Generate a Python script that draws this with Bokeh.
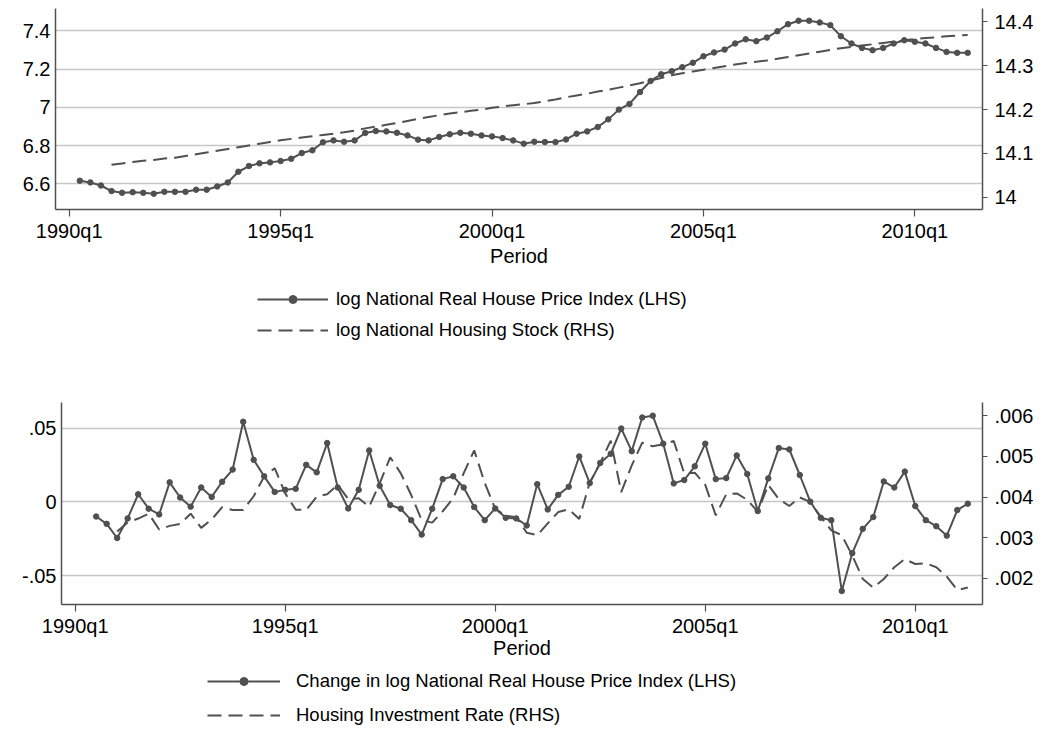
from bokeh.plotting import figure
from bokeh.models import Range1d, LinearAxis, FixedTicker, Legend, LegendItem
from bokeh.layouts import column
from bokeh.embed import file_html
from bokeh.resources import INLINE

# ---------------- data (quarters coded as Stata %tq: 0 = 1960q1) ----------------
x_ticks = [120, 140, 160, 180, 200]
x_tick_labels = ["1990q1", "1995q1", "2000q1", "2005q1", "2010q1"]

top_left_ticks = [6.6, 6.8, 7.0, 7.2, 7.4]
top_left_labels = ["6.6", "6.8", "7", "7.2", "7.4"]
top_right_ticks = [14.0, 14.1, 14.2, 14.3, 14.4]
top_right_labels = ["14", "14.1", "14.2", "14.3", "14.4"]
bot_left_ticks = [-0.05, 0.0, 0.05]
bot_left_labels = ["-.05", "0", ".05"]
bot_right_ticks = [0.002, 0.003, 0.004, 0.005, 0.006]
bot_right_labels = [".002", ".003", ".004", ".005", ".006"]

# log National Real House Price Index, 1990q2 .. 2011q2
hpi_first_q = 121
log_hpi = [
    6.616, 6.607, 6.591, 6.562, 6.553, 6.556, 6.553, 6.548, 6.558, 6.558,
    6.558, 6.569, 6.569, 6.586, 6.607, 6.663, 6.693, 6.707, 6.712, 6.719,
    6.731, 6.761, 6.775, 6.817, 6.827, 6.820, 6.827, 6.866, 6.876, 6.874,
    6.867, 6.853, 6.831, 6.827, 6.845, 6.859, 6.867, 6.862, 6.853, 6.848,
    6.839, 6.827, 6.810, 6.820, 6.818, 6.818, 6.832, 6.862, 6.874, 6.897,
    6.937, 6.988, 7.018, 7.080, 7.138, 7.173, 7.189, 7.210, 7.233, 7.267,
    7.287, 7.302, 7.334, 7.356, 7.346, 7.365, 7.398, 7.435, 7.453, 7.453,
    7.444, 7.430, 7.372, 7.334, 7.311, 7.299, 7.311, 7.334, 7.351, 7.343,
    7.334, 7.311, 7.290, 7.285, 7.285,
]

# log National Housing Stock, 1991q1 .. 2011q2
stock_first_q = 124
log_stock = [
    14.074, 14.077, 14.080, 14.083, 14.085, 14.088, 14.090, 14.094, 14.098, 14.102,
    14.106, 14.110, 14.114, 14.118, 14.122, 14.126, 14.130, 14.133, 14.136, 14.139,
    14.142, 14.145, 14.148, 14.152, 14.157, 14.161, 14.165, 14.169, 14.174, 14.179,
    14.183, 14.187, 14.191, 14.194, 14.197, 14.200, 14.204, 14.207, 14.210, 14.212,
    14.215, 14.219, 14.223, 14.228, 14.232, 14.236, 14.241, 14.245, 14.250, 14.255,
    14.260, 14.266, 14.272, 14.278, 14.283, 14.287, 14.291, 14.295, 14.299, 14.303,
    14.306, 14.309, 14.312, 14.316, 14.320, 14.324, 14.328, 14.332, 14.336, 14.340,
    14.343, 14.346, 14.349, 14.352, 14.355, 14.358, 14.361, 14.363, 14.365, 14.367,
    14.369, 14.370,
]

# Change in log National Real House Price Index, 1990q3 .. 2011q2
dhpi_first_q = 122
d_log_hpi = [
    -0.0099, -0.0149, -0.0245, -0.0112, 0.0052, -0.0046, -0.0085, 0.0133, 0.0030, -0.0032,
    0.0098, 0.0034, 0.0137, 0.0220, 0.0545, 0.0286, 0.0174, 0.0068, 0.0082, 0.0089,
    0.0252, 0.0201, 0.0400, 0.0098, -0.0044, 0.0082, 0.0350, 0.0110, -0.0021, -0.0046,
    -0.0124, -0.0222, -0.0046, 0.0155, 0.0174, 0.0098, -0.0035, -0.0124, -0.0044, -0.0108,
    -0.0112, -0.0160, 0.0121, -0.0051, 0.0048, 0.0103, 0.0309, 0.0128, 0.0265, 0.0327,
    0.0499, 0.0345, 0.0574, 0.0586, 0.0396, 0.0126, 0.0149, 0.0242, 0.0396, 0.0155,
    0.0162, 0.0316, 0.0190, -0.0062, 0.0160, 0.0366, 0.0357, 0.0183, 0.0002, -0.0108,
    -0.0124, -0.0605, -0.0348, -0.0183, -0.0103, 0.0139, 0.0098, 0.0206, -0.0028, -0.0124,
    -0.0165, -0.0229, -0.0055, -0.0012,
]

# Housing Investment Rate, 1991q1 .. 2011q2
inv_first_q = 124
inv_rate = [
    0.00315, 0.00337, 0.00347, 0.00359, 0.00320, 0.00329, 0.00334, 0.00359, 0.00324, 0.00345,
    0.00375, 0.00368, 0.00368, 0.00402, 0.00451, 0.00471, 0.00409, 0.00369, 0.00368, 0.00401,
    0.00407, 0.00430, 0.00395, 0.00397, 0.00376, 0.00434, 0.00498, 0.00459, 0.00405, 0.00343,
    0.00337, 0.00365, 0.00397, 0.00459, 0.00515, 0.00435, 0.00371, 0.00354, 0.00350, 0.00312,
    0.00306, 0.00335, 0.00363, 0.00370, 0.00346, 0.00436, 0.00484, 0.00539, 0.00412, 0.00478,
    0.00534, 0.00525, 0.00530, 0.00538, 0.00458, 0.00460, 0.00430, 0.00355, 0.00407, 0.00409,
    0.00393, 0.00364, 0.00430, 0.00395, 0.00378, 0.00399, 0.00388, 0.00351, 0.00318, 0.00306,
    0.00256, 0.00198, 0.00177, 0.00198, 0.00227, 0.00247, 0.00235, 0.00237, 0.00227, 0.00204,
    0.00171, 0.00177,
]

# ---------------- styling ----------------
FONT = "Liberation Sans"
LINE = "#505050"
AXIS = "#505050"
GRID = "#c6c6c6"
DASH = "14 7"
FIG_W = 1040
RIGHT_EDGE = 982


def quarters(first, n):
    return [first + i for i in range(n)]


def style_axis(ax, tick_out, standoff):
    ax.axis_line_color = AXIS
    ax.axis_line_width = 1.5
    ax.major_tick_line_color = AXIS
    ax.major_tick_line_width = 1.2
    ax.major_tick_out = tick_out
    ax.major_tick_in = 0
    ax.minor_tick_out = 0
    ax.minor_tick_in = 0
    ax.major_label_standoff = standoff
    ax.major_label_text_font = FONT
    ax.major_label_text_font_size = "20px"
    ax.major_label_text_color = "black"


def make_panel(left_ticks, left_labels, right_ticks, right_labels, y_left, y_right,
               height, border_left, border_top, border_bottom, title_standoff,
               solid_x, solid_y, dash_x, dash_y):
    p = figure(width=FIG_W, height=height,
               min_border_left=border_left, min_border_right=FIG_W - RIGHT_EDGE,
               min_border_top=border_top, min_border_bottom=border_bottom,
               x_range=Range1d(118.7, 206.4), y_range=Range1d(*y_left),
               output_backend="svg", toolbar_location=None)
    p.outline_line_color = None
    p.background_fill_color = "white"
    p.border_fill_color = "white"
    p.xgrid.grid_line_color = None
    p.ygrid.grid_line_color = GRID
    p.ygrid.grid_line_width = 1.5

    xa = p.xaxis[0]
    xa.ticker = FixedTicker(ticks=x_ticks)
    xa.major_label_overrides = dict(zip(x_ticks, x_tick_labels))
    style_axis(xa, 7, 3)
    xa.axis_label = "Period"
    xa.axis_label_text_font = FONT
    xa.axis_label_text_font_size = "20px"
    xa.axis_label_text_font_style = "normal"
    xa.axis_label_text_color = "black"
    xa.axis_label_standoff = title_standoff

    ya = p.yaxis[0]
    ya.ticker = FixedTicker(ticks=left_ticks)
    p.ygrid.ticker = FixedTicker(ticks=left_ticks)
    ya.major_label_overrides = dict(zip(left_ticks, left_labels))
    style_axis(ya, 0, 5)

    p.extra_y_ranges = {"rhs": Range1d(*y_right)}
    ra = LinearAxis(y_range_name="rhs", ticker=FixedTicker(ticks=right_ticks))
    ra.major_label_overrides = dict(zip(right_ticks, right_labels))
    style_axis(ra, 5, 7)
    p.add_layout(ra, "right")

    p.line(solid_x, solid_y, line_color=LINE, line_width=2)
    p.scatter(solid_x, solid_y, marker="circle", size=5.5,
              fill_color=LINE, line_color=LINE)
    p.line(dash_x, dash_y, line_color=LINE, line_width=2,
           line_dash=DASH, y_range_name="rhs")
    return p


def make_legend(height, border_left, solid_x, solid_y, dash_x, dash_y,
                solid_label, dash_label, loc, spacing, standoff, glyph_w):
    # legend strip: the series lie outside its (empty) view, only the keys show
    q = figure(width=FIG_W, height=height,
               min_border_left=border_left, min_border_right=FIG_W - RIGHT_EDGE,
               min_border_top=0, min_border_bottom=0,
               x_range=Range1d(0, 1), y_range=Range1d(0, 1),
               x_axis_type=None, y_axis_type=None,
               output_backend="svg", toolbar_location=None)
    q.outline_line_color = None
    q.grid.grid_line_color = None
    l1 = q.line(solid_x, solid_y, line_color=LINE, line_width=2)
    s1 = q.scatter(solid_x, solid_y, marker="circle", size=5.5,
                   fill_color=LINE, line_color=LINE)
    l2 = q.line(dash_x, dash_y, line_color=LINE, line_width=2, line_dash=DASH)
    legend = Legend(items=[LegendItem(label=solid_label, renderers=[l1, s1]),
                           LegendItem(label=dash_label, renderers=[l2])],
                    location=loc, orientation="vertical",
                    padding=0, margin=0, spacing=spacing,
                    glyph_width=glyph_w, glyph_height=20, label_height=20,
                    label_standoff=standoff,
                    label_text_font=FONT, label_text_font_size="18.5px",
                    label_text_color="black",
                    border_line_color=None, background_fill_alpha=0)
    q.add_layout(legend, "center")
    return q


hpi_x = quarters(hpi_first_q, len(log_hpi))
stock_x = quarters(stock_first_q, len(log_stock))
dhpi_x = quarters(dhpi_first_q, len(d_log_hpi))
inv_x = quarters(inv_first_q, len(inv_rate))

TOP_LEFT = 55
BOT_LEFT = 61

p1 = make_panel(top_left_ticks, top_left_labels, top_right_ticks, top_right_labels,
                (6.4655, 7.517), (13.9718, 14.4306),
                270, TOP_LEFT, 8, 61, 0,
                hpi_x, log_hpi, stock_x, log_stock)
leg1 = make_legend(123, TOP_LEFT, hpi_x, log_hpi, stock_x, log_stock,
                   "log National Real House Price Index (LHS)",
                   "log National Housing Stock (RHS)",
                   (257 - TOP_LEFT, 52), 9, 8, 71)

p2 = make_panel(bot_left_ticks, bot_left_labels, bot_right_ticks, bot_right_labels,
                (-0.0697, 0.06757), (0.001352, 0.00633),
                271, BOT_LEFT, 9, 60, -3,
                dhpi_x, d_log_hpi, inv_x, inv_rate)
leg2 = make_legend(70, BOT_LEFT, dhpi_x, d_log_hpi, inv_x, inv_rate,
                   "Change in log National Real House Price Index (LHS)",
                   "Housing Investment Rate (RHS)",
                   (207 - BOT_LEFT, 8), 12, 16, 73)

layout = column(column(p1, leg1, spacing=0), column(p2, leg2, spacing=0), spacing=0)
open("out.html", "w").write(file_html(layout, INLINE))
